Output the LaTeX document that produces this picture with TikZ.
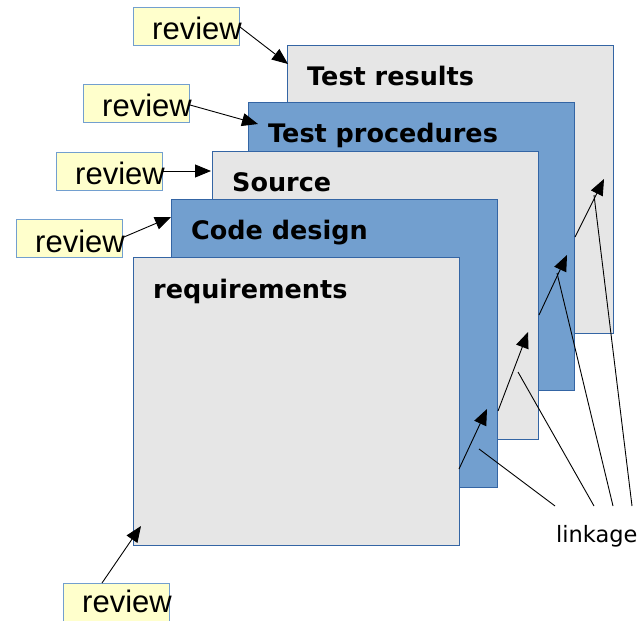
\documentclass[tikz,border=0pt]{standalone}
\usepackage{fontspec}
\setmainfont{Liberation Sans}
\newfontfamily\headfont{DejaVu Sans}
\usetikzlibrary{arrows.meta}
\definecolor{sheetgray}{HTML}{E6E6E6}
\definecolor{sheetblue}{HTML}{729FCF}
\definecolor{sheetedge}{HTML}{3465A4}
\definecolor{notefill}{HTML}{FFFFCC}
\definecolor{noteedge}{HTML}{729FCF}
\tikzset{
  sheet/.style={draw=sheetedge, line width=0.8pt, minimum width=326pt, minimum height=288pt, anchor=north west, inner sep=0pt},
  graysheet/.style={sheet, fill=sheetgray},
  bluesheet/.style={sheet, fill=sheetblue},
  title/.style={anchor=base west, inner sep=0pt, font=\headfont\bfseries\fontsize{25.5}{30}\selectfont},
  note/.style={draw=noteedge, fill=notefill, line width=0.8pt, minimum width=106pt, minimum height=38pt, anchor=north west, inner sep=0pt},
  notetext/.style={anchor=base west, inner sep=0pt, font=\fontsize{31}{36}\selectfont},
  link/.style={draw=black, line width=0.9pt},
  linkarrow/.style={link, -{Triangle[length=16pt,width=13pt]}}
}
\begin{document}
\begin{tikzpicture}[x=1pt,y=-1pt]
\useasboundingbox (0,0) rectangle (644,620);

% stacked document sheets, back to front
\node[graysheet] (results) at (287,45) {};
\node[title] (resultsT) at (307,86) {Test results};
\node[bluesheet] (procs) at (248,102) {};
\node[title] (procsT) at (268,143) {Test procedures};
\node[graysheet] (source) at (212,151) {};
\node[title] (sourceT) at (232,192) {Source};
\node[bluesheet] (design) at (171,199) {};
\node[title] (designT) at (191,239) {Code design};
\node[graysheet] (reqs) at (133,257) {};
\node[title] (reqsT) at (153,298) {requirements};

% review notes
\node[note] (rv1) at (133,7) {};
\node[notetext] (rv1T) at (152,40) {review};
\node[note] (rv2) at (83,84) {};
\node[notetext] (rv2T) at (102,117) {review};
\node[note] (rv3) at (56,152) {};
\node[notetext] (rv3T) at (75,185) {review};
\node[note] (rv4) at (16,219) {};
\node[notetext] (rv4T) at (35,252) {review};
\node[note, minimum height=40pt] (rv5) at (63,583) {};
\node[notetext] (rv5T) at (82,612) {review};

% review arrow end points
\coordinate (r1a) at (240,27);  \coordinate (r1b) at (288,64);
\coordinate (r2a) at (190,105); \coordinate (r2b) at (258,124);
\coordinate (r3a) at (163,171); \coordinate (r3b) at (211,171);
\coordinate (r4a) at (124,237); \coordinate (r4b) at (171,217);
\coordinate (r5a) at (102,583); \coordinate (r5b) at (141,526);
\draw[linkarrow] (r1a) -- (r1b);
\draw[linkarrow] (r2a) -- (r2b);
\draw[linkarrow] (r3a) -- (r3b);
\draw[linkarrow] (r4a) -- (r4b);
\draw[linkarrow] (r5a) -- (r5b);

% chain of trace links between sheets
\coordinate (c1a) at (459,469); \coordinate (c1b) at (487,409);
\coordinate (c2a) at (498,411); \coordinate (c2b) at (528,332);
\coordinate (c3a) at (539,315); \coordinate (c3b) at (567,255);
\coordinate (c4a) at (575,237); \coordinate (c4b) at (604,179);
\draw[linkarrow] (c1a) -- (c1b);
\draw[linkarrow] (c2a) -- (c2b);
\draw[linkarrow] (c3a) -- (c3b);
\draw[linkarrow] (c4a) -- (c4b);

% linkage label and its leaders
\node[anchor=base west, inner sep=0pt, font=\headfont\fontsize{22.5}{27}\selectfont] (linkage) at (556,542) {linkage};
\coordinate (l1a) at (555,506); \coordinate (l1b) at (479,449);
\coordinate (l2a) at (594,506); \coordinate (l2b) at (518,372);
\coordinate (l3a) at (613,506); \coordinate (l3b) at (557,273);
\coordinate (l4a) at (632,506); \coordinate (l4b) at (594,195);
\draw[link] (l1a) -- (l1b);
\draw[link] (l2a) -- (l2b);
\draw[link] (l3a) -- (l3b);
\draw[link] (l4a) -- (l4b);
\end{tikzpicture}
\end{document}
